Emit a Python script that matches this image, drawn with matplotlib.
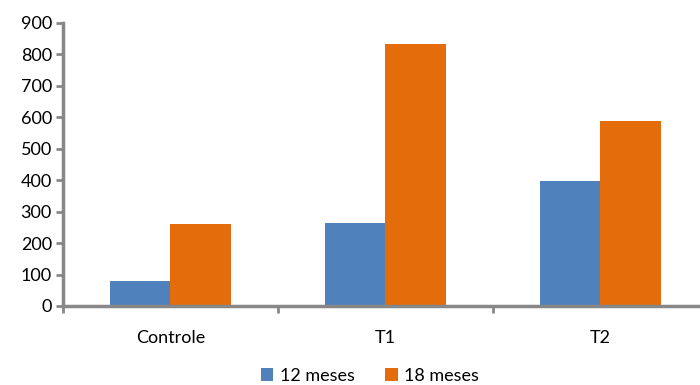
import matplotlib.pyplot as plt
import numpy as np

categories = ["Controle", "T1", "T2"]
meses_12 = [80, 264, 397]
meses_18 = [260, 832, 588]
series_labels = ["12 meses", "18 meses"]

plt.rcParams['font.family'] = ['Lato', 'DejaVu Sans']

fig = plt.figure(figsize=(7, 3.85), dpi=100)
# axes: left 63px, bottom at y=306px, 900 at y=22.7px, right beyond figure edge
ax = fig.add_axes([63 / 700, (385 - 306) / 385, 645 / 700, (306 - 22.7) / 385])

x = np.arange(len(categories))
w = 0.28
b1 = ax.bar(x - w / 2, meses_12, w, color="#4F81BD", label=series_labels[0])
b2 = ax.bar(x + w / 2, meses_18, w, color="#E46C0A", label=series_labels[1])

ax.set_xlim(-0.5, 2.5)
ax.set_ylim(0, 900)
ax.set_yticks(range(0, 901, 100))
ax.tick_params(axis='y', labelsize=13, length=5, width=2, color="#878787", pad=3)

# category labels centred, tick marks at the boundaries
ax.set_xticks(x)
ax.set_xticklabels(categories, fontsize=13)
ax.tick_params(axis='x', length=0, pad=17)
ax.set_xticks([-0.5, 0.5, 1.5], minor=True)
ax.tick_params(axis='x', which='minor', length=5, width=2, color="#878787")

for s in ["top", "right"]:
    ax.spines[s].set_visible(False)
for s in ["left", "bottom"]:
    ax.spines[s].set_color("#878787")
    ax.spines[s].set_linewidth(2.5)

fig.legend(handles=[b1, b2], labels=series_labels, loc="center",
           bbox_to_anchor=(370 / 700, 1 - 376 / 385), ncol=2, frameon=False,
           fontsize=13, handlelength=0.7, handleheight=0.7,
           handletextpad=0.35, columnspacing=1.7)

plt.savefig("out.png", dpi=100)
plt.close()
